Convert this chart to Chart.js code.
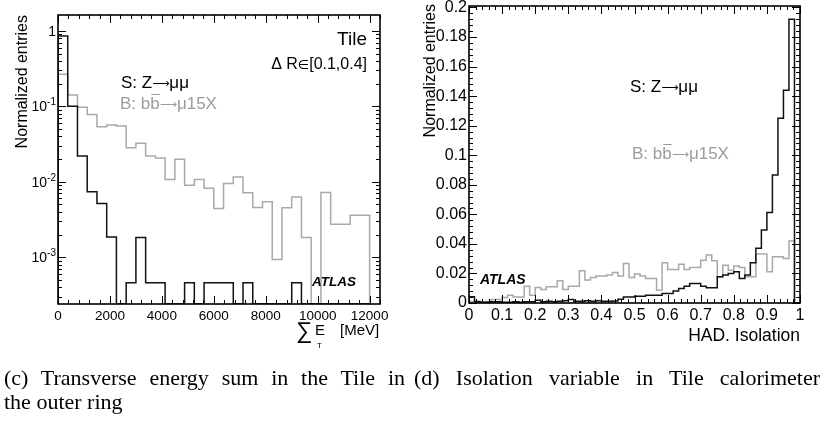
<!DOCTYPE html>
<html>
<head>
<meta charset="utf-8">
<script src="https://cdn.jsdelivr.net/npm/chart.js@4.4.1/dist/chart.umd.min.js"></script>
<style>
  html, body { margin:0; padding:0; background:#fff; }
  body { width:825px; height:434px; position:relative; overflow:hidden; }
  .pane { position:absolute; top:0; height:434px; }
  #leftPane { left:0; width:400px; }
  #rightPane { left:400px; width:425px; }
  .cap { position:absolute; font-family:"Liberation Serif","Times New Roman",serif; font-size:22px; color:#000;
         line-height:24px; white-space:nowrap; }
  .just { white-space:normal; text-align:justify; text-align-last:justify; }
</style>
</head>
<body>
<div class="pane" id="leftPane"><canvas id="etChart"></canvas></div>
<div class="pane" id="rightPane"><canvas id="isoChart"></canvas></div>
<div class="cap just" style="left:4px; top:366px; width:401px;">(c) Transverse energy sum in the Tile in</div>
<div class="cap" style="left:4px; top:390px;">the outer ring</div>
<div class="cap just" style="left:414px; top:366px; width:406px;">(d) Isolation variable in Tile calorimeter</div>

<script>
// (c) sum E_T in the Tile outer ring, 32 bins of 375 MeV starting at 0
const etBinWidth = 375;
const etSignal = [0.853, 0.1, 0.0219, 0.00735, 0.00515, 0.00186, 0, 0.00046,
  0.00183, 0.00046, 0.00046, 0, 0, 0.00046, 0, 0.00046,
  0.00046, 0.00046, 0, 0.00046, 0, 0, 0, 0,
  0.00046, 0, 0, 0, 0, 0, 0, 0];
const etBackground = [0.265, 0.141, 0.097, 0.078, 0.0535, 0.0563, 0.0546, 0.0282,
  0.0323, 0.0219, 0.0207, 0.0107, 0.0199, 0.009, 0.0107, 0.0082,
  0.00443, 0.0095, 0.0116, 0.00713, 0.00455, 0.00542, 0.00093, 0.00451,
  0.0063, 0.00182, 0, 0.0072, 0.00274, 0.00274, 0.0036, 0.0036];
const etXTicks = [0, 2000, 4000, 6000, 8000, 10000, 12000];
const etXLabels = ["0", "2000", "4000", "6000", "8000", "10000", "12000"];
const etYTicks = [1, 0.1, 0.01, 0.001];
const etYLabels = [["1", ""], ["10", "-1"], ["10", "-2"], ["10", "-3"]];
const etXMax = 12400, etYMin = 2.4e-4, etYMax = 1.62;

// (d) HAD isolation, 60 bins over [0,1]
const isoBinWidth = 1 / 60;
const isoSignal = [0.0042, 0.001, 0.0005, 0.0005, 0.0008, 0.0008, 0.0005, 0.0005,
  0.0008, 0.0005, 0.0008, 0.0008, 0.0019, 0.0008, 0.0012, 0.0008,
  0.0012, 0.0016, 0.0024, 0.0012, 0.0012, 0.0016, 0.0012, 0.0016,
  0.0012, 0.0012, 0.0014, 0.0025, 0.0041, 0.0041, 0.0046, 0.0046,
  0.0053, 0.0053, 0.0053, 0.0064, 0.0064, 0.0082, 0.0098, 0.0114,
  0.0132, 0.0132, 0.0114, 0.0103, 0.0103, 0.0177, 0.0189, 0.02,
  0.0211, 0.0166, 0.0189, 0.0272, 0.037, 0.0494, 0.0612, 0.0867,
  0.125, 0.144, 0.192, 0];
const isoBackground = [0.001, 0.0005, 0.0005, 0.001, 0.0024, 0.0024, 0.0037, 0.0053,
  0.0041, 0.0041, 0.0114, 0.0053, 0.0105, 0.0091, 0.011, 0.011,
  0.015, 0.0091, 0.0114, 0.0114, 0.0218, 0.0155, 0.0173, 0.0182,
  0.0182, 0.0189, 0.0207, 0.0182, 0.0268, 0.0173, 0.0196, 0.0182,
  0.0166, 0.0166, 0.0087, 0.0272, 0.0227, 0.0227, 0.0263, 0.0227,
  0.024, 0.024, 0.029, 0.0325, 0.0286, 0.0177, 0.0256, 0.0222,
  0.025, 0.024, 0.0177, 0.0177, 0.0331, 0.0331, 0.0211, 0.0313,
  0.0313, 0.0302, 0.042, 0];
const isoXTicks = [0, 0.1, 0.2, 0.3, 0.4, 0.5, 0.6, 0.7, 0.8, 0.9, 1];
const isoXLabels = ["0", "0.1", "0.2", "0.3", "0.4", "0.5", "0.6", "0.7", "0.8", "0.9", "1"];
const isoYTicks = [0, 0.02, 0.04, 0.06, 0.08, 0.1, 0.12, 0.14, 0.16, 0.18, 0.2];
const isoYLabels = ["0", "0.02", "0.04", "0.06", "0.08", "0.1", "0.12", "0.14", "0.16", "0.18", "0.2"];
const isoYMax = 0.201;

const SANS = "'Liberation Sans', Arial, Helvetica, sans-serif";
const SYM = "'DejaVu Sans', sans-serif";
const GREY_LINE = "#a9a9a9", GREY_TEXT = "#9c9c9c";
Chart.defaults.font.family = SANS;
Chart.defaults.color = "#000";

// ROOT-style outline: point at each low edge, closed down to the floor at both ends
function histPoints(vals, width, floor){
  const pts = [{ x: 0, y: floor }];
  vals.forEach((v, i) => pts.push({ x: i * width, y: v > 0 ? v : floor }));
  pts.push({ x: vals.length * width, y: floor });
  return pts;
}

function range(from, to, step){
  const out = [];
  for (let v = from; v <= to + step * 1e-6; v += step) out.push(+v.toFixed(6));
  return out;
}

// frame plus inward ticks on all four sides
function framePlugin(t){
  return {
    id: "frame",
    afterDatasetsDraw(chart){
      const { ctx, chartArea: a, scales: { x, y } } = chart;
      ctx.save();
      ctx.strokeStyle = "#000";
      ctx.lineWidth = 1;
      ctx.beginPath();
      const xt = (list, len) => list.forEach(v => {
        const p = Math.round(x.getPixelForValue(v)) + 0.5;
        ctx.moveTo(p, a.bottom); ctx.lineTo(p, a.bottom - len);
        ctx.moveTo(p, a.top); ctx.lineTo(p, a.top + len);
      });
      const yt = (list, len) => list.forEach(v => {
        const p = Math.round(y.getPixelForValue(v)) + 0.5;
        ctx.moveTo(a.left, p); ctx.lineTo(a.left + len, p);
        ctx.moveTo(a.right, p); ctx.lineTo(a.right - len, p);
      });
      xt(t.xMajor, 8); xt(t.xMinor, 4);
      yt(t.yMajor, 8); yt(t.yMinor, 4);
      ctx.stroke();
      ctx.lineWidth = 1.6;
      ctx.strokeRect(a.left, a.top, a.right - a.left, a.bottom - a.top);
      ctx.restore();
    }
  };
}

// text items; "parts" lets arrows/symbols use a different font
function textPlugin(items, extra){
  return {
    id: "panelText",
    afterDraw(chart){
      const ctx = chart.ctx;
      ctx.save();
      ctx.textBaseline = "alphabetic";
      items.forEach(it => {
        const font = (fam, size) => `${it.style || "normal"} ${it.weight || "normal"} ${size || it.size}px ${fam || SANS}`;
        ctx.fillStyle = it.color || "#000";
        if (it.rotate){
          ctx.font = font();
          ctx.textAlign = "right";
          ctx.save(); ctx.translate(it.x, it.y); ctx.rotate(-Math.PI / 2);
          ctx.fillText(it.t, 0, 0); ctx.restore();
          return;
        }
        const parts = it.parts || [[it.t]];
        let total = 0;
        parts.forEach(p => { ctx.font = font(p[1], p[2]); total += ctx.measureText(p[0]).width; });
        let x = it.align === "right" ? it.x - total : it.x;
        ctx.textAlign = "left";
        parts.forEach(p => {
          ctx.font = font(p[1], p[2]);
          const w = ctx.measureText(p[0]).width;
          ctx.fillText(p[0], x, it.y + (p[3] || 0));
          if (p[4]){ // overline (b-bar)
            ctx.strokeStyle = ctx.fillStyle; ctx.lineWidth = 1;
            const by = Math.round(it.y - it.size * 0.86) + 0.5;
            ctx.beginPath(); ctx.moveTo(x + 1, by); ctx.lineTo(x + w, by); ctx.stroke();
          }
          x += w;
        });
      });
      if (extra) extra(chart, ctx);
      ctx.restore();
    }
  };
}

// thin long arrow, closer to the Symbol-font arrow ROOT uses
const ARROW = ["\u27f6", SYM, 12, -1];
const signalLabel = (x, y) => ({ x, y, size: 17, parts: [["S: Z"], ARROW, ["\u03bc\u03bc"]] });
const backgroundLabel = (x, y) => ({ x, y, size: 17, color: GREY_TEXT,
  parts: [["B: b"], ["b", null, null, 0, true], ARROW, ["\u03bc15X"]] });

const fixedTicks = (vals) => (s) => { s.ticks = vals.map(v => ({ value: v })); };
const noPad = (w, h) => (s) => {
  if (w != null) s.width = w;
  if (h != null) s.height = h;
  s.paddingLeft = s.paddingRight = s.paddingTop = s.paddingBottom = 0;
};

// ---------- left: sum E_T ----------
const etLogMinor = [];
for (let e = -4; e <= 0; e++) for (let m = 2; m <= 9; m++){
  const v = m * Math.pow(10, e);
  if (v > etYMin && v < etYMax) etLogMinor.push(v);
}

new Chart(document.getElementById("etChart"), {
  type: "line",
  data: {
    datasets: [
      { label: "S", data: histPoints(etSignal, etBinWidth, etYMin), borderColor: "#111", borderWidth: 1.5 },
      { label: "B", data: histPoints(etBackground, etBinWidth, etYMin), borderColor: GREY_LINE, borderWidth: 1.5 }
    ]
  },
  options: {
    responsive: true, maintainAspectRatio: false, animation: false, devicePixelRatio: 1,
    layout: { padding: { left: 0, right: 20, top: 15, bottom: 0 } },
    elements: { point: { radius: 0 }, line: { stepped: true, fill: false, tension: 0 } },
    plugins: { legend: { display: false }, tooltip: { enabled: false } },
    scales: {
      x: {
        type: "linear", min: 0, max: etXMax,
        afterBuildTicks: fixedTicks(etXTicks), afterFit: noPad(null, 130),
        grid: { display: false, drawTicks: false }, border: { display: false },
        ticks: { autoSkip: false, maxRotation: 0, padding: 4, font: { size: 13.5 },
                 callback: (v, i) => etXLabels[i] }
      },
      y: {
        type: "logarithmic", min: etYMin, max: etYMax,
        afterBuildTicks: fixedTicks(etYTicks), afterFit: noPad(58, null),
        grid: { display: false, drawTicks: false }, border: { display: false },
        ticks: { display: false }
      }
    }
  },
  plugins: [
    framePlugin({ xMajor: etXTicks, xMinor: range(0, etXMax, 400), yMajor: etYTicks, yMinor: etLogMinor }),
    textPlugin([
      { t: "Tile", x: 367, y: 45, size: 19, align: "right" },
      { x: 367, y: 69, size: 16, align: "right", parts: [["\u0394 R"], ["\u2208", SYM, 13], ["[0.1,0.4]"]] },
      signalLabel(121, 88),
      backgroundLabel(120, 109),
      { t: "ATLAS", x: 312, y: 286, size: 13.5, weight: "bold", style: "italic" },
      { t: "Normalized entries", x: 27, y: 15, size: 16, rotate: true },
      { t: "\u2211", x: 296, y: 338, size: 23 },
      { t: "E", x: 315, y: 335, size: 15 },
      { t: "T", x: 317, y: 348, size: 8 },
      { t: "[MeV]", x: 340, y: 335, size: 15 }
    ], (chart, ctx) => {
      // log axis labels 1, 10^-1 ... with raised exponent
      const y = chart.scales.y;
      ctx.fillStyle = "#000";
      ctx.textAlign = "right";
      etYTicks.forEach((v, i) => {
        const [base, exp] = etYLabels[i];
        const p = y.getPixelForValue(v);
        ctx.font = `10px ${SANS}`;
        const ew = exp ? ctx.measureText(exp).width : 0;
        if (exp) ctx.fillText(exp, 56, p - 1);
        ctx.font = `14px ${SANS}`;
        ctx.fillText(base, 56 - ew, p + 5);
      });
    })
  ]
});

// ---------- right: HAD isolation ----------
new Chart(document.getElementById("isoChart"), {
  type: "line",
  data: {
    datasets: [
      { label: "S", data: histPoints(isoSignal, isoBinWidth, 0), borderColor: "#111", borderWidth: 1.5 },
      { label: "B", data: histPoints(isoBackground, isoBinWidth, 0), borderColor: GREY_LINE, borderWidth: 1.5 }
    ]
  },
  options: {
    responsive: true, maintainAspectRatio: false, animation: false, devicePixelRatio: 1,
    layout: { padding: { left: 0, right: 25, top: 6, bottom: 0 } },
    elements: { point: { radius: 0 }, line: { stepped: true, fill: false, tension: 0 } },
    plugins: { legend: { display: false }, tooltip: { enabled: false } },
    scales: {
      x: {
        type: "linear", min: 0, max: 1,
        afterBuildTicks: fixedTicks(isoXTicks), afterFit: noPad(null, 131),
        grid: { display: false, drawTicks: false }, border: { display: false },
        ticks: { autoSkip: false, maxRotation: 0, padding: 3, font: { size: 16 },
                 callback: (v, i) => isoXLabels[i] }
      },
      y: {
        type: "linear", min: 0, max: isoYMax,
        afterBuildTicks: fixedTicks(isoYTicks), afterFit: noPad(69, null),
        grid: { display: false, drawTicks: false }, border: { display: false },
        ticks: { autoSkip: false, padding: 2, font: { size: 16 },
                 callback: (v, i) => isoYLabels[i] }
      }
    }
  },
  plugins: [
    framePlugin({ xMajor: isoXTicks, xMinor: range(0, 1, 0.02), yMajor: isoYTicks, yMinor: range(0, 0.2, 0.004) }),
    textPlugin([
      signalLabel(230, 92),
      backgroundLabel(232, 159),
      { t: "ATLAS", x: 80, y: 284, size: 14, weight: "bold", style: "italic" },
      { t: "HAD. Isolation", x: 400, y: 341, size: 17.5, align: "right" },
      { t: "Normalized entries", x: 35, y: 4, size: 16, rotate: true }
    ])
  ]
});
</script>
</body>
</html>
